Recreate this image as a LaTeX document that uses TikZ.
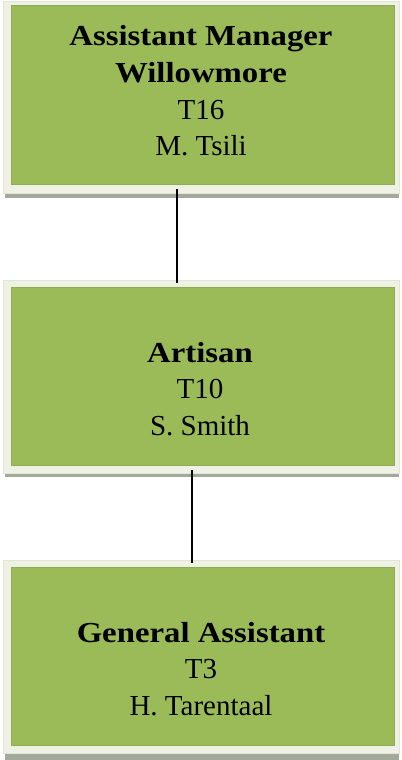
\documentclass[tikz,border=0pt]{standalone}
\usepackage{fontspec}
\setmainfont{Liberation Serif}[BoldFeatures={FakeStretch=1.13}]
\definecolor{boxgreen}{HTML}{9BBB59}
\definecolor{greenedge}{HTML}{8EAD4E}
\definecolor{framecol}{HTML}{EEF1E3}
\definecolor{frameedge}{HTML}{E2E6D6}
\definecolor{shadowcol}{HTML}{A3AA9B}
\tikzset{
  shadowbox/.style={fill=shadowcol, draw=none},
  framebox/.style={fill=framecol, draw=frameedge, line width=0.8bp},
  greenbox/.style={fill=boxgreen, draw=greenedge, line width=0.8bp},
  boxtext/.style={anchor=base, inner sep=0pt, font=\fontsize{29bp}{34bp}\selectfont},
  link/.style={draw=black, line width=2bp}
}
\begin{document}
\begin{tikzpicture}[x=1bp, y=-1bp]
\useasboundingbox (0,0) rectangle (401,760);
\fill[white] (0,0) rectangle (401,760);
% box 1
\path[shadowbox] (5,192) rectangle (399,198);
\path[framebox] (3,1) rectangle (399,193);
\node[greenbox, minimum width=383bp, minimum height=179bp, inner sep=0pt] (b1) at (202.5,94.5) {};
% box 2
\path[shadowbox] (5,472) rectangle (399,477);
\path[framebox] (3,280) rectangle (399,473);
\node[greenbox, minimum width=383bp, minimum height=178bp, inner sep=0pt] (b2) at (202.5,376) {};
% box 3
\path[shadowbox] (5,752) rectangle (399,760);
\path[framebox] (3,560) rectangle (399,753);
\node[greenbox, minimum width=383bp, minimum height=178bp, inner sep=0pt] (b3) at (202.5,656) {};
% texts
\node[boxtext] (t1a) at (201,46) {\textbf{Assistant Manager}};
\node[boxtext] (t1b) at (201,82) {\textbf{Willowmore}};
\node[boxtext] (t1c) at (201,119) {T16};
\node[boxtext] (t1d) at (201,155) {M. Tsili};
\node[boxtext] (t2a) at (200,362) {\textbf{Artisan}};
\node[boxtext] (t2b) at (200,398) {T10};
\node[boxtext] (t2c) at (200,435) {S. Smith};
\node[boxtext] (t3a) at (201,642) {\textbf{General Assistant}};
\node[boxtext] (t3b) at (201,678) {T3};
\node[boxtext] (t3c) at (201,715) {H. Tarentaal};
% connectors
\coordinate (c1) at (177,0);
\coordinate (c2) at (192,0);
\draw[link] ([yshift=-5bp]b1.south -| c1) -- ([yshift=4bp]b2.north -| c1);
\draw[link] ([yshift=-5bp]b2.south -| c2) -- ([yshift=4bp]b3.north -| c2);
\end{tikzpicture}
\end{document}
